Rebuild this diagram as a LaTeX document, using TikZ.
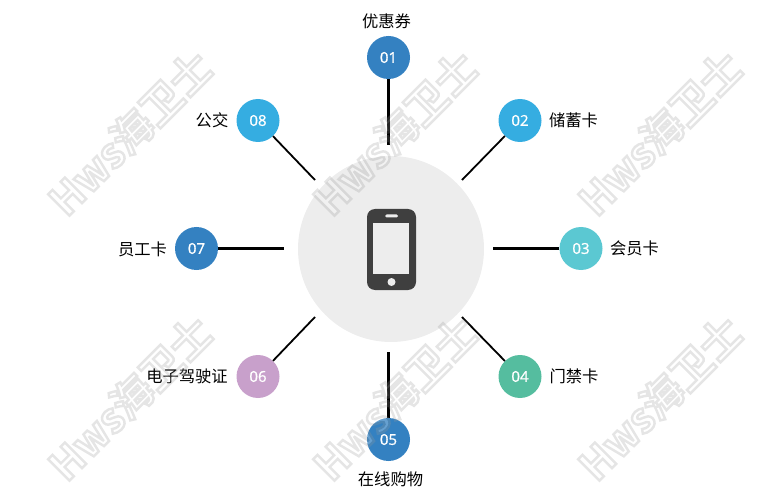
\documentclass[tikz,border=0pt]{standalone}
\usepackage{fontspec}
\setmainfont{Noto Sans CJK SC}
\newfontfamily\numfont[FakeBold=1]{Open Sans}
\newfontfamily\markfont[FakeBold=6]{Noto Sans CJK SC Bold}
\definecolor{dotblue}{HTML}{3481C1}
\definecolor{dotsky}{HTML}{35ADE1}
\definecolor{dotcyan}{HTML}{5BC8D2}
\definecolor{dotgreen}{HTML}{55BD9F}
\definecolor{dotlilac}{HTML}{C8A0CB}
\definecolor{hubgray}{HTML}{EDEDED}
\definecolor{phonegray}{HTML}{3F3F3F}
\tikzset{
  dotnode/.style={circle,minimum size=43pt,inner sep=0pt,text=white,font=\numfont\fontsize{15}{15}\selectfont},
  labelnode/.style={inner sep=0pt,font=\fontsize{16.3}{16.3}\selectfont},
  spoke/.style={line width=3pt},
  thinspoke/.style={line width=1.8pt},
  marknode/.style={rotate=45,font=\markfont\fontsize{41}{41}\selectfont},
}
\newcommand{\hwsmark}{\special{pdf:code 1 1 1 rg .6 .6 .6 RG}Hws海卫士}
\begin{document}
\begin{tikzpicture}[x=1pt,y=-1pt]
      \useasboundingbox (0,0) rectangle (780,500);
      \node[circle,fill=hubgray,minimum size=186pt,inner sep=0pt] (hub) at (391,249) {};
      \draw
        (388.5,145) coordinate (e1)
        (462,180) coordinate (e2)
        (493,248.5) coordinate (e3)
        (462,317) coordinate (e4)
        (388.5,352) coordinate (e5)
        (315,317) coordinate (e6)
        (284,248.5) coordinate (e7)
        (315,180) coordinate (e8);
      \draw
        (388.5,57.5) node[dotnode,fill=dotblue] (1){01}
        (520,120.5) node[dotnode,fill=dotsky] (2){02}
        (581,248.5) node[dotnode,fill=dotcyan] (3){03}
        (520,376.5) node[dotnode,fill=dotgreen] (4){04}
        (388.5,439.5) node[dotnode,fill=dotblue] (5){05}
        (258,376.5) node[dotnode,fill=dotlilac] (6){06}
        (196.5,248.5) node[dotnode,fill=dotblue] (7){07}
        (258,120.5) node[dotnode,fill=dotsky] (8){08};
      \begin{scope}[-]
        \draw[spoke] (1) to (e1);
        \draw[thinspoke] (2) to (e2);
        \draw[spoke] (3) to (e3);
        \draw[thinspoke] (4) to (e4);
        \draw[spoke] (5) to (e5);
        \draw[thinspoke] (6) to (e6);
        \draw[spoke] (7) to (e7);
        \draw[thinspoke] (8) to (e8);
      \end{scope}
      \draw
        (386.5,21.5) node[labelnode] (l1){优惠券}
        (573.5,120.5) node[labelnode] (l2){储蓄卡}
        (634.5,248.5) node[labelnode] (l3){会员卡}
        (574,376.5) node[labelnode] (l4){门禁卡}
        (390.5,479.5) node[labelnode] (l5){在线购物}
        (187,376.5) node[labelnode] (l6){电子驾驶证}
        (142.5,249.5) node[labelnode] (l7){员工卡}
        (212,120.5) node[labelnode] (l8){公交};
      % phone
      \fill[phonegray,rounded corners=8pt] (367,209) rectangle (416,290);
      \fill[hubgray] (373,223) rectangle (409,274);
      \fill[hubgray,rounded corners=1.5pt] (385,214.5) rectangle (398,217.5);
      \fill[hubgray] (391.5,282) circle (4);
      % watermark
      \begin{scope}[transparency group,opacity=.25]
        \node[marknode] (m1) at (130,133) {\hwsmark};
        \node[marknode] (m2) at (395,133) {\hwsmark};
        \node[marknode] (m3) at (660,133) {\hwsmark};
        \node[marknode] (m4) at (130,398) {\hwsmark};
        \node[marknode] (m5) at (395,398) {\hwsmark};
        \node[marknode] (m6) at (660,398) {\hwsmark};
      \end{scope}
    \end{tikzpicture}
\end{document}
